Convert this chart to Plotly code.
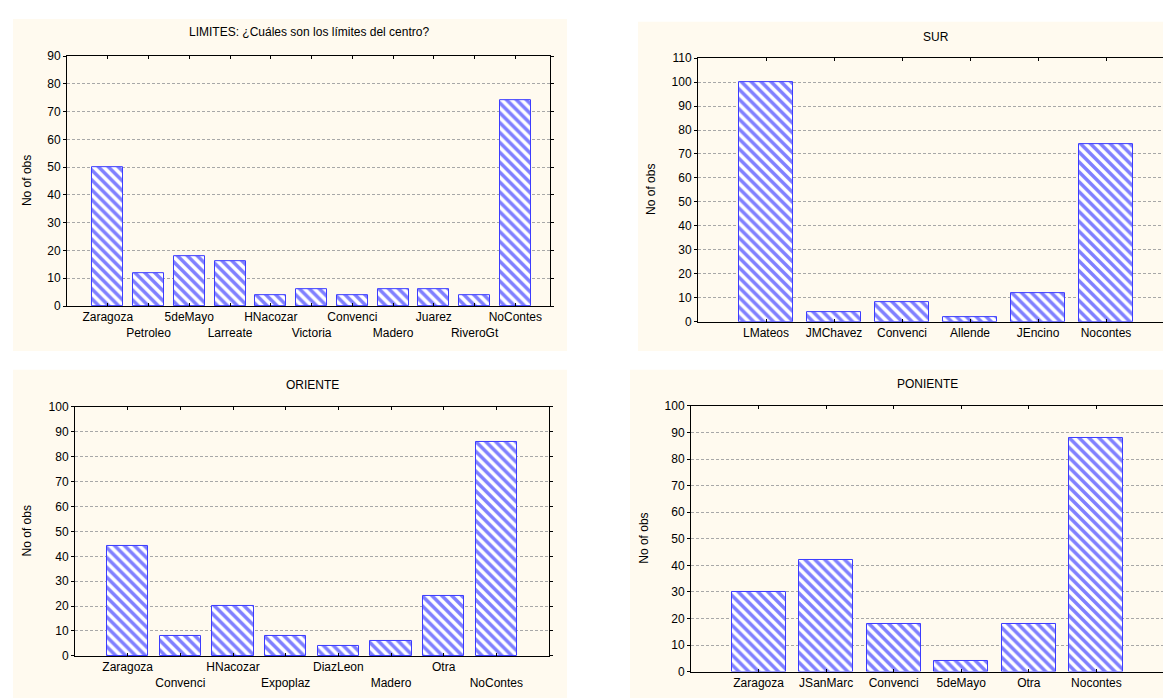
import plotly.graph_objects as go

# ---- data ----
limites_cats = ["Zaragoza", "Petroleo", "5deMayo", "Larreate", "HNacozar", "Victoria",
                "Convenci", "Madero", "Juarez", "RiveroGt", "NoContes"]
limites_vals = [50, 12, 18, 16, 4, 6, 4, 6, 6, 4, 74]

sur_cats = ["LMateos", "JMChavez", "Convenci", "Allende", "JEncino", "Nocontes"]
sur_vals = [100, 4, 8, 2, 12, 74]

oriente_cats = ["Zaragoza", "Convenci", "HNacozar", "Expoplaz", "DiazLeon", "Madero", "Otra", "NoContes"]
oriente_vals = [44, 8, 20, 8, 4, 6, 24, 86]

poniente_cats = ["Zaragoza", "JSanMarc", "Convenci", "5deMayo", "Otra", "Nocontes"]
poniente_vals = [30, 42, 18, 4, 18, 88]

W, H = 1171, 698
FONT = "Liberation Sans, Arial, sans-serif"
BEIGE = "#FFFAEF"


def px_x(a, b):
    return [a / W, b / W]


def px_y(top, bottom):
    return [1 - bottom / H, 1 - top / H]


def stagger(cats):
    # alternate labels on two rows like the original
    return [c if i % 2 == 0 else "<br>" + c for i, c in enumerate(cats)]


panels = [
    dict(title="LIMITES: ¿Cuáles son los límites del centro?", cats=limites_cats, vals=limites_vals,
         xdom=px_x(59, 542), ydom=px_y(42, 297), xr=[-1, 10.85], yr=[0, 90], bw=0.76,
         bg=(5, 4, 559, 343), title_y=17, ylab_x=19, labels=stagger(limites_cats)),
    dict(title="SUR", cats=sur_cats, vals=sur_vals,
         xdom=px_x(690, 1166), ydom=px_y(44, 313), xr=[-1, 6], yr=[0, 110], bw=0.8,
         bg=(630, 7, 1171, 343), title_y=22, ylab_x=643, labels=sur_cats),
    dict(title="ORIENTE", cats=oriente_cats, vals=oriente_vals,
         xdom=px_x(67, 541), ydom=px_y(400, 654), xr=[-1, 8], yr=[0, 100], bw=0.78,
         bg=(5, 362, 559, 697), title_y=378, ylab_x=19, labels=stagger(oriente_cats)),
    dict(title="PONIENTE", cats=poniente_cats, vals=poniente_vals,
         xdom=px_x(683, 1156), ydom=px_y(399, 670), xr=[-1, 6], yr=[0, 100], bw=0.8,
         bg=(622, 362, 1171, 697), title_y=377, ylab_x=636, labels=poniente_cats),
]

fig = go.Figure()
shapes = []
annotations = []
layout = {}

for i, p in enumerate(panels, start=1):
    sfx = "" if i == 1 else str(i)
    fig.add_trace(go.Bar(
        x=p["cats"], y=p["vals"], width=p["bw"],
        xaxis="x" + sfx, yaxis="y" + sfx,
        marker=dict(
            color="white",
            line=dict(color="#3c3cff", width=1),
            pattern=dict(shape="\\", fgcolor="#0000FF", bgcolor="white", size=7, solidity=0.5),
        ),
        showlegend=False,
    ))

    layout["xaxis" + sfx] = dict(
        domain=p["xdom"], anchor="y" + sfx, type="category", range=p["xr"],
        tickvals=p["cats"], ticktext=p["labels"], tickangle=0,
        showline=True, linecolor="black", linewidth=1, mirror="ticks",
        ticks="inside", ticklen=3, tickcolor="black",
        showgrid=False, tickfont=dict(family=FONT, size=12, color="black"),
        fixedrange=True,
    )
    layout["yaxis" + sfx] = dict(
        domain=p["ydom"], anchor="x" + sfx, range=p["yr"], dtick=10,
        showline=True, linecolor="black", linewidth=1, mirror="ticks",
        ticks="outside", ticklen=3, tickcolor="black",
        showgrid=True, gridcolor="#A8A8A8", griddash="3px,2px", gridwidth=1,
        zeroline=False, tickfont=dict(family=FONT, size=12, color="black"),
        fixedrange=True,
    )

    x0, y0, x1, y1 = p["bg"]
    shapes.append(dict(type="rect", xref="paper", yref="paper", layer="below",
                       x0=x0 / W, x1=x1 / W, y0=1 - y1 / H, y1=1 - y0 / H,
                       fillcolor=BEIGE, line=dict(width=0)))

    cx = (p["xdom"][0] + p["xdom"][1]) / 2
    annotations.append(dict(text=p["title"], xref="paper", yref="paper", x=cx, y=1 - p["title_y"] / H,
                            showarrow=False, xanchor="center", yanchor="middle",
                            font=dict(family=FONT, size=12, color="black")))
    cy = (p["ydom"][0] + p["ydom"][1]) / 2
    annotations.append(dict(text="No of obs", xref="paper", yref="paper", x=p["ylab_x"] / W, y=cy,
                            showarrow=False, textangle=-90, xanchor="center", yanchor="middle",
                            font=dict(family=FONT, size=12, color="black")))

fig.update_layout(
    width=W, height=H,
    margin=dict(l=0, r=0, t=0, b=0),
    paper_bgcolor="white", plot_bgcolor="white",
    shapes=shapes, annotations=annotations,
    bargap=0,
    **layout,
)

fig.write_html("out.html")
